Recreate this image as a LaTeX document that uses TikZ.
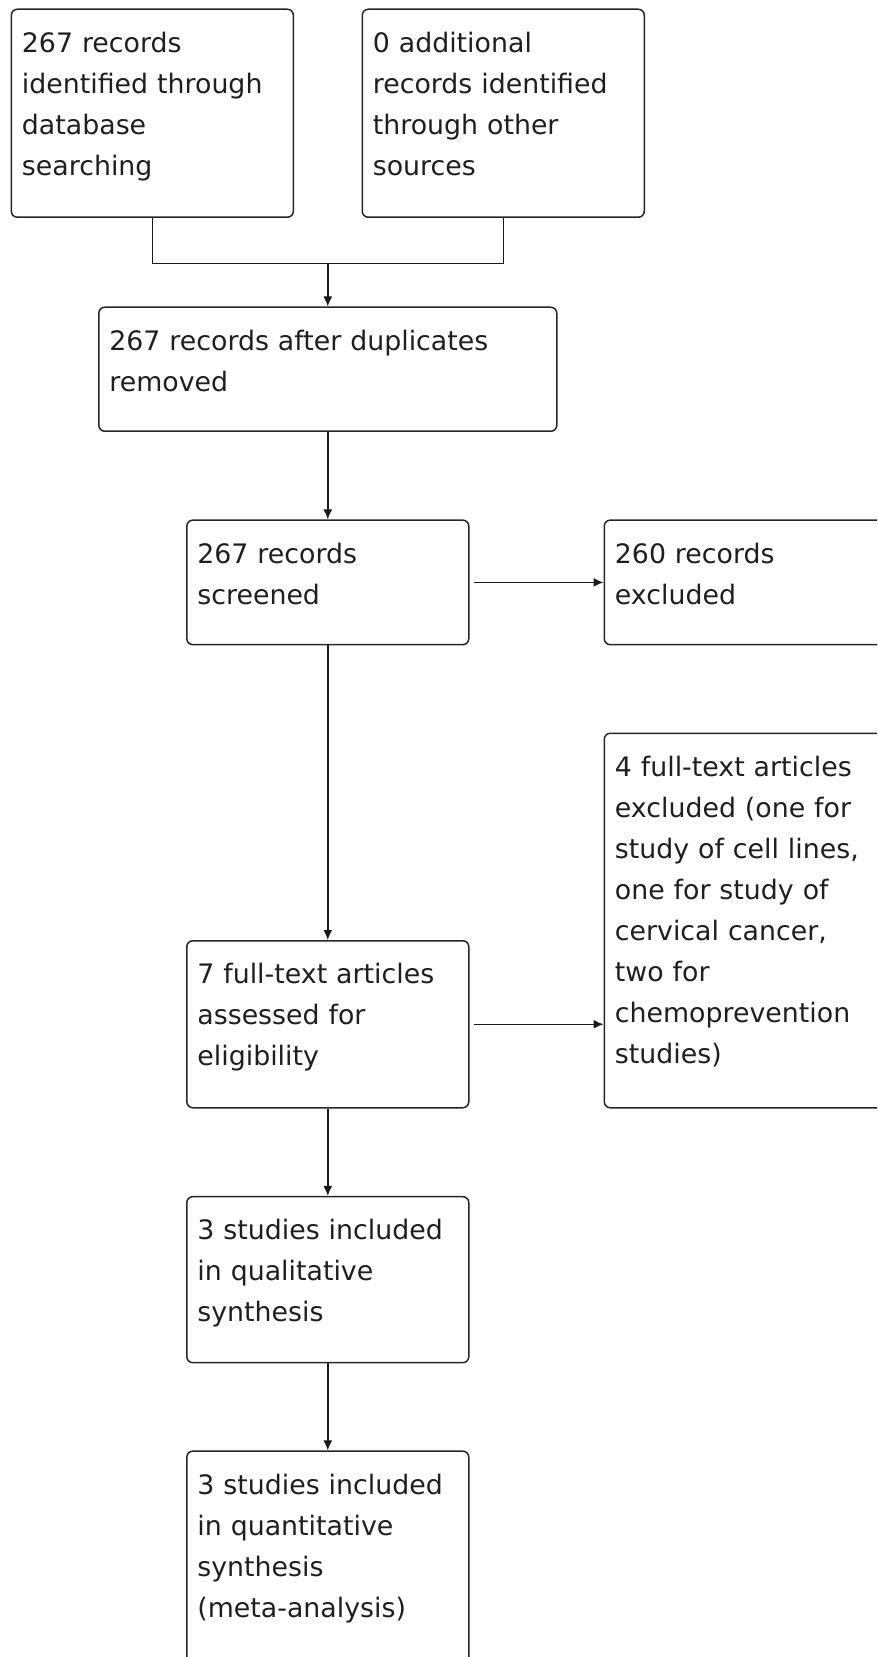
\documentclass[tikz,border=0pt]{standalone}
\usepackage{fontspec}
\setmainfont{DejaVu Sans}
\usetikzlibrary{positioning,arrows.meta,calc}
\tikzset{
  stagebox/.style = {rectangle, rounded corners=3pt, draw=black!85, line width=0.75pt,
                   anchor=north west, align=left, inner xsep=5.3pt, inner ysep=0pt,
                   text width=130.4pt, text height=21.5pt, text=black!88,
                   font=\fontsize{13.4}{20.5}\selectfont},
  widebox/.style  = {stagebox, text width=218.4pt},
  flow/.style     = {-{Latex[length=5pt,width=4.5pt]}, line width=0.75pt, draw=black!90},
  link/.style     = {line width=0.75pt, draw=black!90, line join=round},
}

\begin{document}
\begin{tikzpicture}
  \useasboundingbox (0,0) rectangle (438.5pt,-828.5pt);
  \clip (0,0) rectangle (438.5pt,-828.5pt);

  % identification
  \node[stagebox, text depth=82.5pt] (recdb) at (5.3pt,-4.25pt) {267 records\\identified through\\database\\searching};
  \node[stagebox, text depth=82.5pt, right=33.7pt of recdb.north east, anchor=north west] (recother) {0 additional\\records identified\\through other\\sources};
  \coordinate (join) at ($(recdb.south)!0.5!(recother.south)+(0,-22.75pt)$);

  % screening
  \node[widebox, text depth=40.5pt, anchor=north] (dedup) at ($(join)+(0,-21.5pt)$) {267 records after duplicates\\removed};
  \node[stagebox, text depth=40.75pt, below=43.7pt of dedup] (screen) {267 records\\screened};
  \node[stagebox, text depth=40.75pt, right=67pt of screen] (screenexcl) {260 records\\excluded};

  % eligibility
  \node[stagebox, text depth=62pt, below=147.3pt of screen] (fulltext) {7 full-text articles\\assessed for\\eligibility};
  \node[stagebox, text depth=165.75pt, anchor=south west] (ftexcl) at (fulltext.south -| screenexcl.west) {4 full-text articles\\excluded (one for\\study of cell lines,\\one for study of\\cervical cancer,\\two for\\chemoprevention\\studies)};

  % included
  \node[stagebox, text depth=61.5pt, below=43.7pt of fulltext] (qual) {3 studies included\\in qualitative\\synthesis};
  \node[stagebox, text depth=88.5pt, below=43.5pt of qual] (quant) {3 studies included\\in quantitative\\synthesis\\(meta-analysis)};

  \draw[link] (recdb.south) -- (recdb.south |- join) -- (recother.south |- join) -- (recother.south);
  \draw[flow] (join) -- (dedup);
  \draw[flow] (dedup) -- (screen);
  \draw[flow] ([xshift=2pt]screen.east) -- (screenexcl.west);
  \draw[flow] (screen) -- (fulltext);
  \draw[flow] ([xshift=2pt]fulltext.east) -- (fulltext.east -| ftexcl.west);
  \draw[flow] (fulltext) -- (qual);
  \draw[flow] (qual) -- (quant);
\end{tikzpicture}
\end{document}
